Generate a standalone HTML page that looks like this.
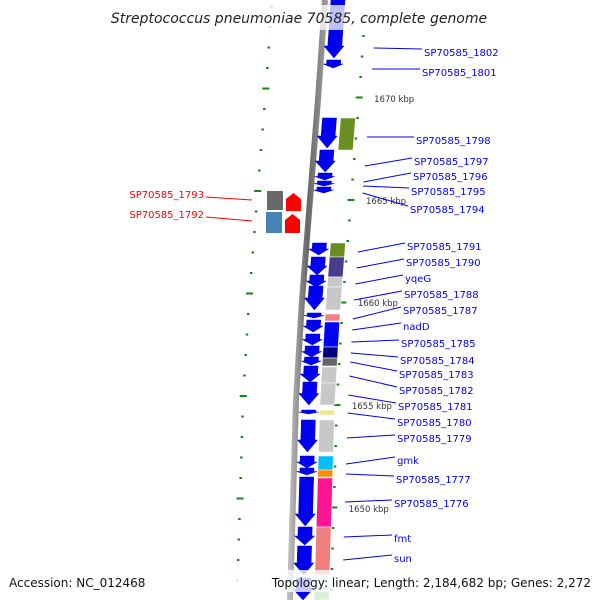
<!DOCTYPE html>
<html><head><meta charset="utf-8">
<style>
html,body{margin:0;padding:0;background:#fff;}
svg{display:block;}
text{font-family:"DejaVu Sans","Liberation Sans",sans-serif;}
</style></head>
<body>
<svg id="map" width="600" height="600" viewBox="0 0 600 600" xmlns="http://www.w3.org/2000/svg">
<defs>
<linearGradient id="bb" x1="0" x2="1" y1="0" y2="0">
<stop offset="0" stop-color="#bbb"/><stop offset="0.5" stop-color="#666"/><stop offset="1" stop-color="#999"/>
</linearGradient>
</defs>
<g id="ticks"></g>
<path id="backbone" d="" fill="none" stroke="url(#bb)" stroke-width="6"/>
<g id="genes"></g>
<g id="labels"></g>
<rect x="110" y="5" width="380" height="25" fill="#fff" opacity="0.75"/>
<text x="299" y="23" text-anchor="middle" font-size="14" font-style="italic" fill="#222">Streptococcus pneumoniae 70585, complete genome</text>
<rect x="0" y="570" width="600" height="22" fill="#fff" opacity="0.78"/>
<text x="9" y="587" font-size="12" fill="#111">Accession: NC_012468</text>
<text x="591" y="587" text-anchor="end" font-size="12" fill="#111">Topology: linear; Length: 2,184,682 bp; Genes: 2,272</text>
</svg>
<script>
// backbone shape samples
const lineYs = [0,100,200,300,400,500,600];
const lineXs = [325,318,310,302,296,293,290];
// blue arrow column genes: [startY, endY]
const blueStarts = [0,60,118,150,173,181,187,243,257,275,286,313,320,334,346,357,366,382,410,420,456,468,477,527,546,578];
const blueEnds   = [58,68,148,172,180,186,193,255,275,287,310,318,332,345,357,365,382,405,414,452,468,475,526,545,575,600];
// second column genes
const boxStarts = [118,243,257,277,287,314,322,347,358,367,383,410,420,456,470,478,527,575];
const boxEnds   = [150,257,277,287,310,321,347,358,366,383,405,415,452,470,477,527,575,600];
const boxColors = ["#6b8e23","#6b8e23","#483d8b","#c8c8c8","#c8c8c8","#f08080","#0000ff","#000080","#666666","#c8c8c8","#c8c8c8","#f0e68c","#c8c8c8","#00bfff","#ff8c00","#ff1493","#f08080","#d8f0d8"];
// right labels
const labelNames = ["SP70585_1802","SP70585_1801","SP70585_1798","SP70585_1797","SP70585_1796","SP70585_1795","SP70585_1794","SP70585_1791","SP70585_1790","yqeG","SP70585_1788","SP70585_1787","nadD","SP70585_1785","SP70585_1784","SP70585_1783","SP70585_1782","SP70585_1781","SP70585_1780","SP70585_1779","gmk","SP70585_1777","SP70585_1776","fmt","sun"];
const labelX = [424,422,416,414,413,411,410,407,406,405,404,403,403,401,400,399,399,398,397,397,397,396,394,394,394];
const labelY = [52,72,140,161,176,191,209,246,262,278,294,310,326,343,360,374,390,406,422,438,460,479,503,538,558];
const leaderY = [48,69,137,166,182,186,193,252,268,284,300,319,330,342,353,362,376,395,413,438,464,474,502,537,560];
// kbp ticks
const kbpLabels = ["1670 kbp","1665 kbp","1660 kbp","1655 kbp","1650 kbp"];
const kbpY = [98,200,302,405,508];

const NS="http://www.w3.org/2000/svg";
function lx(y){for(let i=0;i<lineYs.length-1;i++){if(y<=lineYs[i+1]){const t=(y-lineYs[i])/(lineYs[i+1]-lineYs[i]);return lineXs[i]+t*(lineXs[i+1]-lineXs[i]);}}return lineXs[lineXs.length-1];}
function mk(tag,attrs,parent){const e=document.createElementNS(NS,tag);for(const k in attrs)e.setAttribute(k,attrs[k]);parent.appendChild(e);return e;}
let d="M"+lx(0)+",0";for(let y=10;y<=600;y+=10)d+=" L"+lx(y).toFixed(1)+","+y;
document.getElementById('backbone').setAttribute('d',d);

const G=document.getElementById('genes');
blueStarts.forEach((s,i)=>{const e=blueEnds[i];const h=e-s;const hl=Math.min(12,h*0.5);
 const a=lx(s)+4,b=lx(s)+22,c=lx(e)+4,dd=lx(e)+22,m=(lx(e)+13);
 const yb=e-hl;
 const p=mk('polygon',{points:`${a+2},${s} ${b-2},${s} ${(lx(yb)+20).toFixed(1)},${yb} ${dd+1},${yb} ${m},${e} ${c-1},${yb} ${(lx(yb)+6).toFixed(1)},${yb}`,fill:"#0000ee",stroke:"#0000cc","stroke-width":"0.5"},G);
 
 
});
boxStarts.forEach((s,i)=>{const e=boxEnds[i];
 const p=mk('polygon',{points:`${lx(s)+24},${s} ${lx(s)+39},${s} ${lx(e)+39},${e} ${lx(e)+24},${e}`,fill:boxColors[i],stroke:"#fff","stroke-width":"0.6"},G);
 
 
});
// left-strand genes
let r;
r=mk('rect',{x:267,y:191,width:16,height:19,fill:"#696969"},G);


r=mk('rect',{x:266,y:212,width:16,height:21,fill:"#4682b4"},G);


r=mk('polygon',{points:"286,211 286,199 293.5,193 301,199 301,211",fill:"#ff0000"},G);


r=mk('polygon',{points:"285,233 285,220 292.5,214 300,220 300,233",fill:"#ff0000"},G);



// ticks
const T=document.getElementById('ticks');
for(let y=36-20.5*2;y<600;y+=20.5){ if(y<0)continue;
 const major=kbpY.some(k=>Math.abs(k-y)<4);
 const w=major?7:2.5;
 const xr=lx(y)+41, xl=lx(y-9)-53;
 let t=mk('rect',{x:xr-w/2,y:y-1,width:w,height:2,fill:"#118811"},T);
 
 
 t=mk('rect',{x:xl-w/2,y:y-10,width:w,height:2,fill:"#118811"},T);
 
 
}
kbpLabels.forEach((k,i)=>{const y=kbpY[i];
 const t=mk('text',{x:lx(y)+56,y:y+4,"font-size":"8.5",fill:"#333"},T);t.textContent=k;
 
 
});

// labels
const L=document.getElementById('labels');
labelNames.forEach((n,i)=>{const y=labelY[i],ly=leaderY[i];
 const ln=mk('line',{x1:lx(ly)+52,y1:ly,x2:labelX[i]-2,y2:y-3,stroke:"#0000ee","stroke-width":"1"},L);
 
 
 const t=mk('text',{x:labelX[i],y:y+4,"font-size":"10",fill:"#0000ee"},L);t.textContent=n;
 
 
});
[["SP70585_1793",198,197,200],["SP70585_1792",218,217,221]].forEach(a=>{
 const ln=mk('line',{x1:206,y1:a[2],x2:252,y2:a[3],stroke:"#ff0000","stroke-width":"1"},L);
 
 
 const t=mk('text',{x:204,y:a[1],"font-size":"10","text-anchor":"end",fill:"#ff0000"},L);t.textContent=a[0];
 
 
});
</script>
</body></html>
